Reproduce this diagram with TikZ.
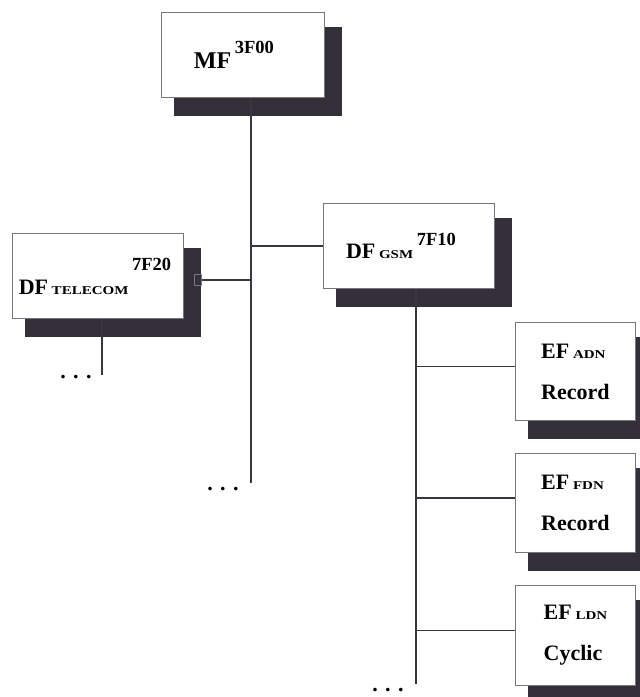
\documentclass[tikz,border=0pt]{standalone}
\usepackage{fontspec}
\setmainfont{Liberation Serif}
\usetikzlibrary{backgrounds}
\definecolor{shadowc}{RGB}{52,48,58}
\definecolor{linec}{RGB}{58,54,62}
\definecolor{framec}{RGB}{120,118,124}
\newcommand{\mainf}{\fontsize{22}{41}\selectfont\bfseries}
\newcommand{\supf}[2]{\raisebox{#1}{\fontsize{18.5}{20}\selectfont\bfseries #2}}
\newcommand{\subf}[1]{\scalebox{1.25}[1]{\fontsize{12}{14}\selectfont\bfseries #1}}
\tikzset{
  front/.style={draw=framec, line width=0.9pt, fill=white, inner sep=0pt, anchor=north west, font=\mainf},
  conn/.style={draw=linec, line width=1.8pt},
  dotsf/.style={font=\mainf, inner sep=0pt},
}
\begin{document}
\begin{tikzpicture}[x=1pt,y=-1pt]
\begin{scope}[on background layer]
\fill[white] (0,0) rectangle (640,697);
\end{scope}
\useasboundingbox (0,0) rectangle (640,697);
% boxes
\node[front, minimum width=163pt, minimum height=85pt] (mf) at (161,12) {{\fontsize{24}{28}\selectfont MF}\,\supf{15pt}{3F00}\hspace*{18pt}};
\node[front, minimum width=171pt, minimum height=85pt] (tel) at (12,233) {DF\,\subf{TELECOM}\,\supf{24pt}{7F20}\hspace*{6pt}};
\node[front, minimum width=171pt, minimum height=85pt] (gsm) at (323,203) {DF\,\subf{GSM}\,\supf{13pt}{7F10}\hspace*{16pt}};
\node[front, minimum width=120pt, minimum height=98pt, align=left] (adn) at (515,322) {EF\,\subf{ADN}\\Record};
\node[front, minimum width=120pt, minimum height=99pt, align=left] (fdn) at (515,453) {EF\,\subf{FDN}\\Record};
\node[front, minimum width=120pt, minimum height=100pt, align=left] (ldn) at (515,585) {EF\,\subf{LDN}\\Cyclic};
% small port on telecom box
\node[draw=framec, fill=shadowc, line width=0.8pt, minimum width=7pt, minimum height=11pt, inner sep=0pt] (tport) at (198,280) {};
% shadows
\begin{scope}[on background layer]
  \foreach \b in {mf,tel,gsm,adn,fdn,ldn}
    \fill[shadowc] ([shift={(13pt,-15pt)}]\b.north west) rectangle ([shift={(17pt,-18pt)}]\b.south east);
\end{scope}
% coordinates for free ends
\coordinate (t1) at (251,483);
\coordinate (t2) at (102,375);
\coordinate (t3) at (416,684);
% connectors
\draw[conn] (mf.south -| t1) -- (t1);
\draw[conn] (gsm.west) -- (gsm.west -| t1);
\draw[conn] (tport.east) -- (tport.east -| t1);
\draw[conn] (tel.south -| t2) -- (t2);
\draw[conn] (gsm.south -| t3) -- (t3);
\draw[conn] ([yshift=5pt]adn.west) -- ([yshift=5pt]adn.west -| t3);
\draw[conn] ([yshift=5pt]fdn.west) -- ([yshift=5pt]fdn.west -| t3);
\draw[conn] ([yshift=5pt]ldn.west) -- ([yshift=5pt]ldn.west -| t3);
% dots
\node[dotsf, anchor=base] (tdots) at (76,378) {. . .};
\node[dotsf, anchor=base] (mdots) at (223,490) {. . .};
\node[dotsf, anchor=base] (gdots) at (388,691) {. . .};
\end{tikzpicture}
\end{document}
